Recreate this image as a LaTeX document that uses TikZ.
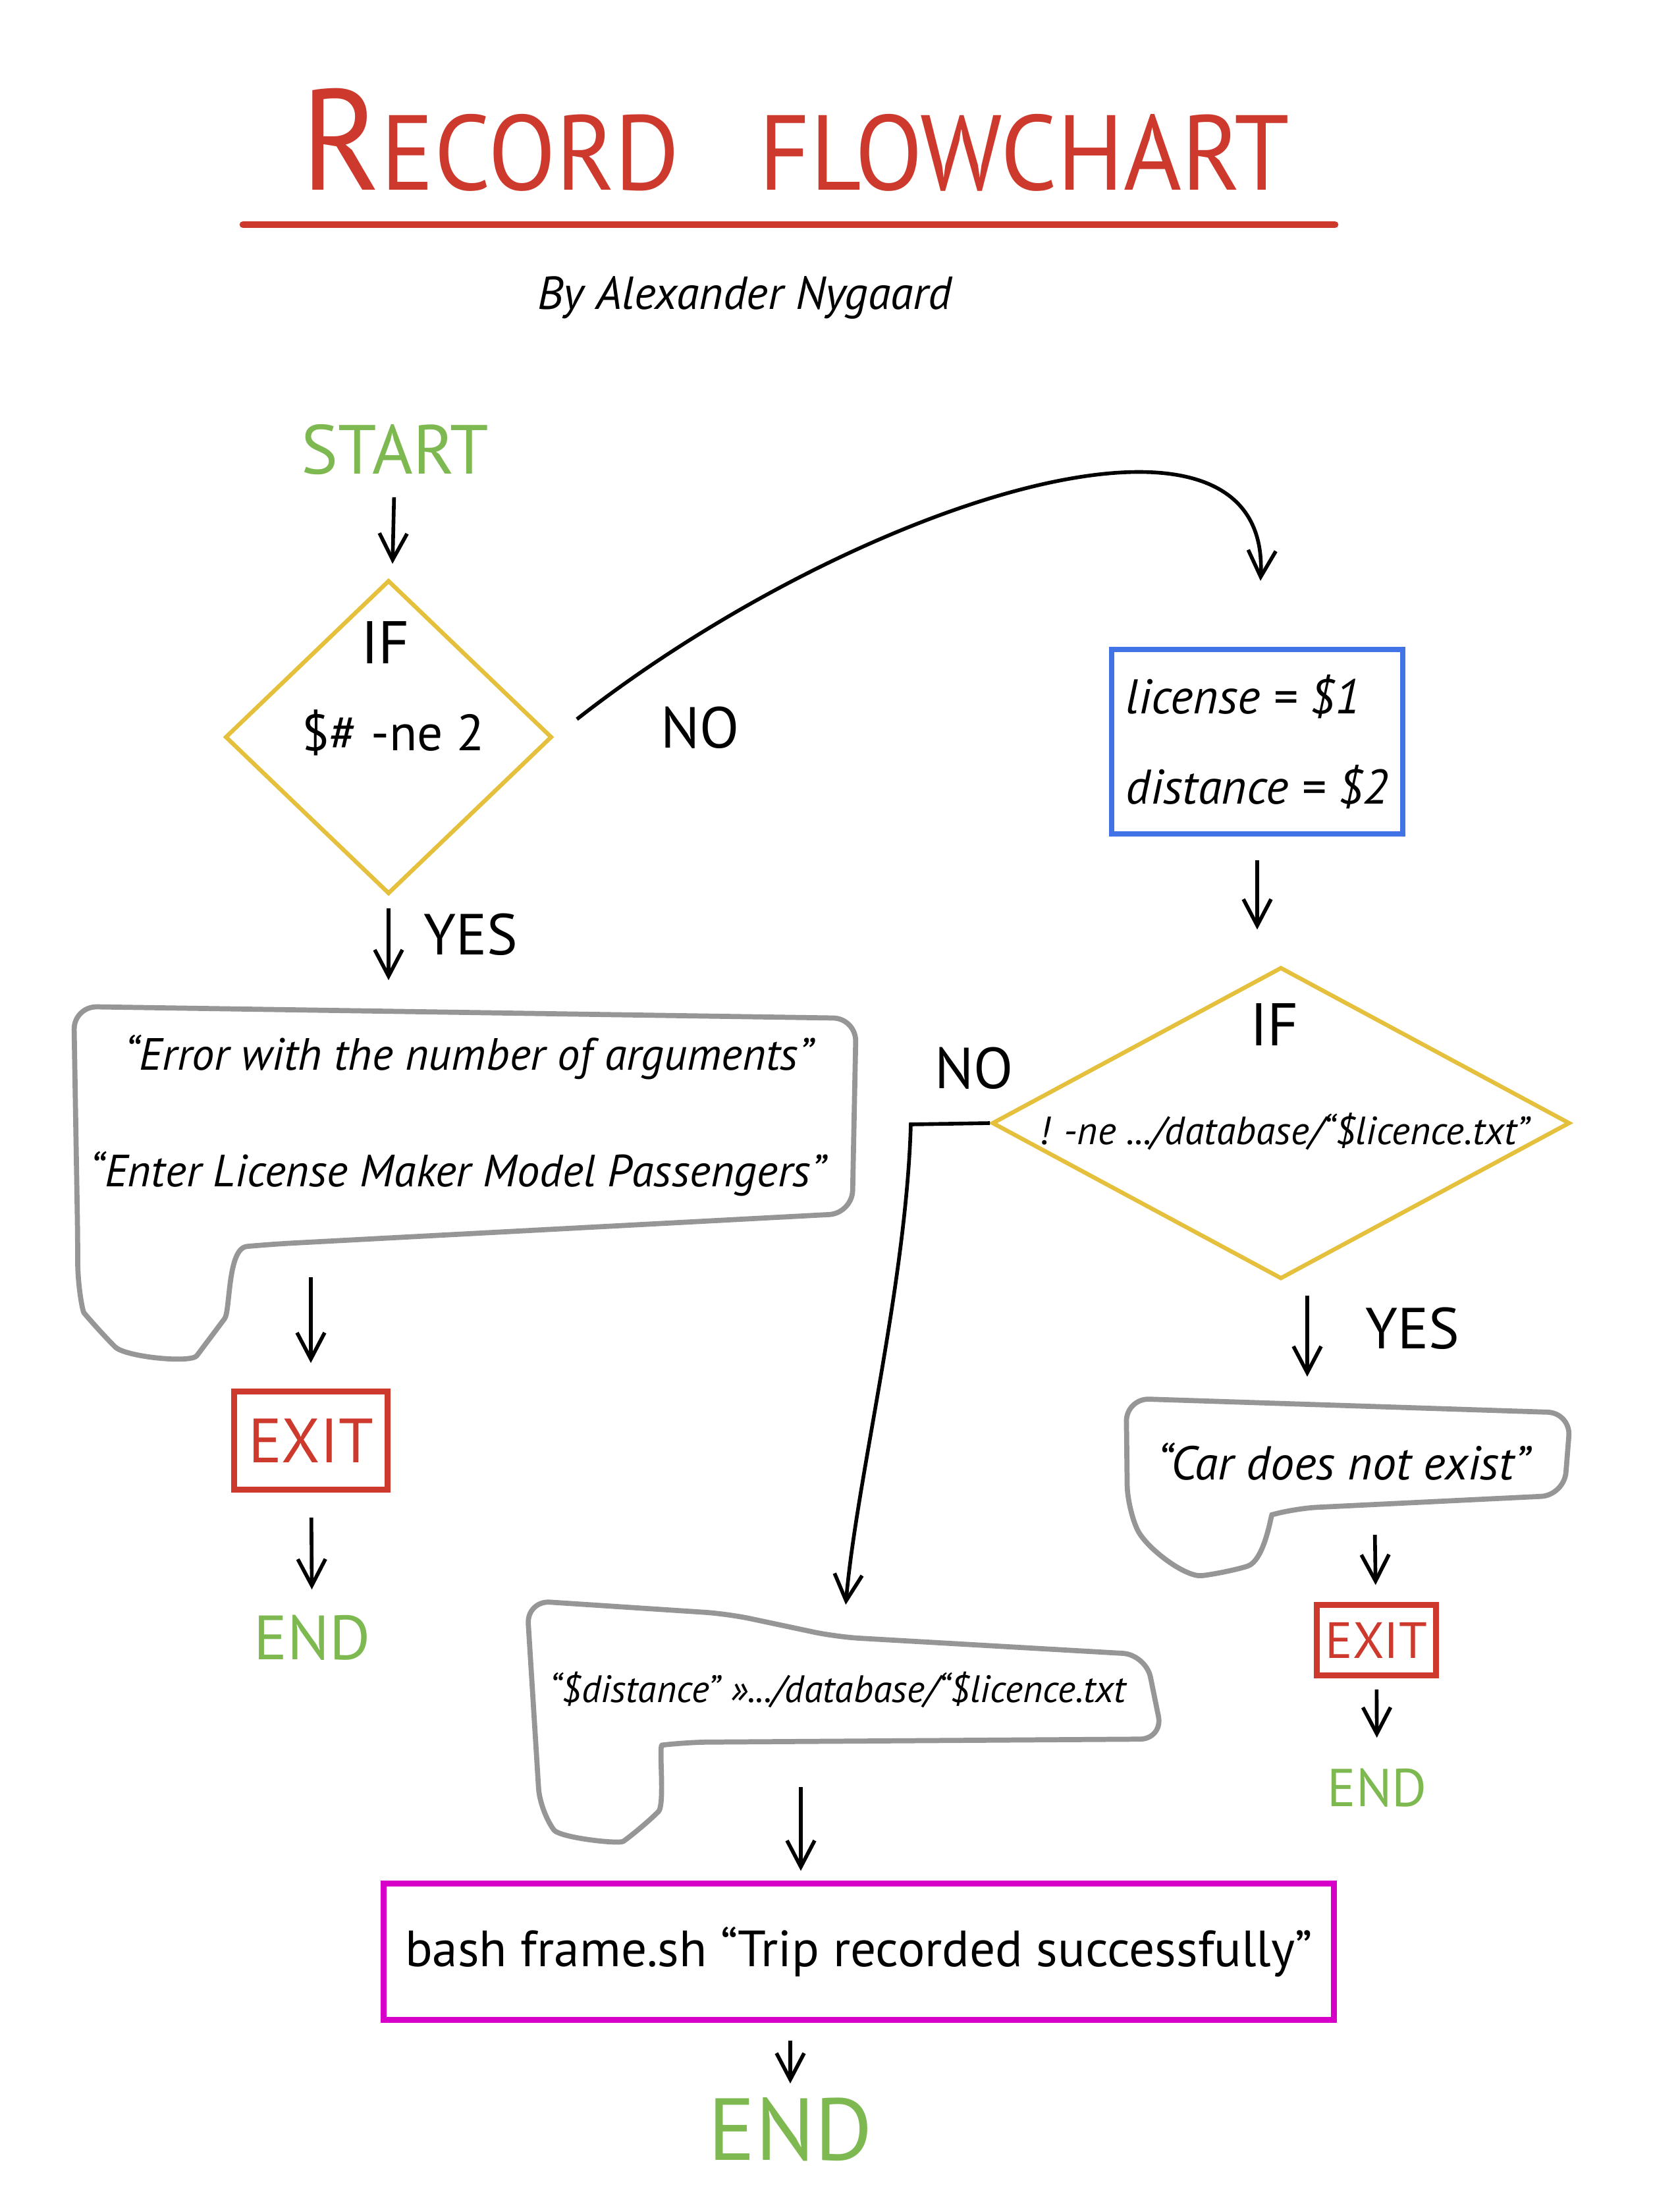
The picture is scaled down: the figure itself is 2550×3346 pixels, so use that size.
\documentclass[tikz,border=0pt]{standalone}
\usepackage{fontspec}
\setmainfont{PT Sans}
\usetikzlibrary{shapes.geometric,arrows.meta}

\definecolor{titlered}{RGB}{205,58,45}
\definecolor{startgreen}{RGB}{125,185,80}
\definecolor{ifyellow}{RGB}{228,192,60}
\definecolor{varblue}{RGB}{65,115,230}
\definecolor{notegray}{RGB}{150,150,150}
\definecolor{bashpink}{RGB}{215,0,200}

\tikzset{
  arr/.style={-{Straight Barb[length=0.4cm,width=0.42cm]}, line width=1.6pt},
  cond/.style={diamond, draw=ifyellow, line width=1.8pt, inner sep=0pt},
  note/.style={draw=notegray, line width=2.2pt, rounded corners=0.35cm},
  box/.style={rectangle, line width=2.4pt, inner sep=0pt},
  lbl/.style={inner sep=0pt, font=\fontsize{25}{30}\selectfont},
  hand/.style={inner sep=0pt, font=\itshape\fontsize{19.5}{24}\selectfont},
  term/.style={inner sep=0pt, text=startgreen},
}

\begin{document}
\begin{tikzpicture}[x=0.01cm,y=-0.01cm]
\useasboundingbox (0,0) rectangle (2550,3346);

% title
\node[text=titlered] (title) at (1208,212) {\scalebox{0.93}[1]{\fontsize{62}{70}\selectfont R\fontsize{46}{50}\selectfont ECORD\hspace{0.8em}FLOWCHART}};
\draw[titlered, line width=3pt, line cap=round] (369,341) -- (2027,341);
\node[font=\itshape\fontsize{20}{24}\selectfont] (author) at (1131,452) {By Alexander Nygaard};

% left column
\node[term, font=\fontsize{30}{34}\selectfont] (start) at (600,683) {START};
\node[cond, minimum width=4.96cm, minimum height=4.76cm] (if1) at (590,1119) {};
\node[lbl, font=\fontsize{26}{30}\selectfont] (if1a) at (585,975) {IF};
\node[lbl, font=\fontsize{22}{26}\selectfont] (if1b) at (597,1112) {\$\# -ne 2};
\node[lbl] (yes1) at (715,1419) {YES};
\node[lbl] (no1) at (1063,1105) {NO};

\draw[note] (112,1528) -- (1300,1546) -- (1294,1842) -- (410,1889)
  .. controls (345,1895) and (350,1990) .. (320,2030)
  .. controls (290,2070) and (190,2060) .. (150,2020)
  .. controls (125,1990) and (118,1950) .. (118,1880) -- cycle;
\coordinate (errtop) at (590,1530);
\coordinate (errbot) at (472,1886);
\node[hand] (err1) at (712,1605) {``Error with the number of arguments''};
\node[hand] (err2) at (695,1782) {``Enter License Maker Model Passengers''};

\node[box, draw=titlered, text=titlered, minimum width=2.33cm, minimum height=1.49cm, font=\fontsize{27}{30}\selectfont] (exit1) at (472,2187) {EXIT};
\node[term, font=\fontsize{27}{30}\selectfont] (end1) at (474,2486) {END};

% right column
\node[box, draw=varblue, minimum width=4.42cm, minimum height=2.8cm, align=left, font=\itshape\fontsize{21}{25}\selectfont] (vars) at (1909,1126) {license = \$1\\[14pt]distance = \$2};
\node[cond, minimum width=8.77cm, minimum height=4.73cm] (if2) at (1945,1705) {};
\node[lbl, font=\fontsize{26}{30}\selectfont] (if2a) at (1935,1555) {IF};
\node[hand, font=\itshape\fontsize{17}{20}\selectfont] (if2b) at (1950,1718) {! -ne .../database/``\$licence.txt''};
\node[lbl] (no2) at (1479,1622) {NO};
\node[lbl] (yes2) at (2145,2017) {YES};
\coordinate (nobend) at (1383,1707);

\draw[note] (1710,2123) -- (2385,2145) -- (2375,2270) -- (1965,2290)
  .. controls (1930,2300) and (1920,2370) .. (1860,2388)
  .. controls (1800,2395) and (1740,2350) .. (1712,2290) -- cycle;
\coordinate (cartop) at (1985,2140);
\coordinate (carbot) at (2087,2284);
\node[hand, font=\itshape\fontsize{20.5}{24}\selectfont] (car) at (2040,2219) {``Car does not exist''};

\node[box, draw=titlered, text=titlered, minimum width=1.81cm, minimum height=1.07cm, font=\fontsize{22}{26}\selectfont] (exit2) at (2090,2490) {EXIT};
\node[term, font=\fontsize{23}{26}\selectfont] (end2) at (2091,2714) {END};

% middle
\draw[note] (800,2430) -- (1105,2450) -- (1270,2485) -- (1740,2512) -- (1766,2640) -- (1040,2645)
  .. controls (1000,2650) and (1010,2740) .. (975,2775)
  .. controls (940,2800) and (850,2790) .. (820,2750) -- cycle;
\coordinate (disttop) at (1280,2486);
\coordinate (distbot) at (1216,2644);
\node[hand, font=\itshape\fontsize{16.5}{20}\selectfont] (dist) at (1272,2565) {``\$distance'' >>.../database/``\$licence.txt};

\node[box, draw=bashpink, minimum width=14.42cm, minimum height=2.07cm, font=\fontsize{22}{26}\selectfont] (bash) at (1304,2963) {bash frame.sh ``Trip recorded successfully''};
\node[term, font=\fontsize{38}{42}\selectfont] (end3) at (1200,3233) {END};

% arrows
\draw[arr, shorten <=0.33cm, shorten >=0.27cm] (start) -- (if1);
\draw[arr, shorten <=0.19cm, shorten >=0.42cm] (if1.south) -- (errtop);
\draw[arr, shorten <=0.44cm, shorten >=1cm] (if1.east) .. controls (1300,760) and (1930,560) .. (vars.north);
\draw[arr, shorten <=0.53cm, shorten >=0.39cm] (errbot) -- (exit1);
\draw[arr, shorten <=0.38cm, shorten >=0.38cm] (exit1) -- (end1);
\draw[arr, shorten <=0.36cm, shorten >=0.54cm] (vars) -- (vars |- if2.north);
\draw[arr, shorten >=0.5cm] (if2.west) -- (nobend) .. controls (1376,1950) and (1300,2250) .. (disttop);
\draw[arr, shorten <=0.22cm, shorten >=0.5cm] (if2.south -| cartop) -- (cartop);
\draw[arr, shorten <=0.46cm, shorten >=0.26cm] (carbot) -- (exit2);
\draw[arr, shorten <=0.17cm, shorten >=0.46cm] (exit2) -- (end2);
\draw[arr, shorten <=0.69cm, shorten >=0.15cm] (distbot) -- (distbot |- bash.north);
\draw[arr, shorten <=0.27cm, shorten >=0.21cm] (bash.south -| end3) -- (end3);

\end{tikzpicture}
\end{document}
